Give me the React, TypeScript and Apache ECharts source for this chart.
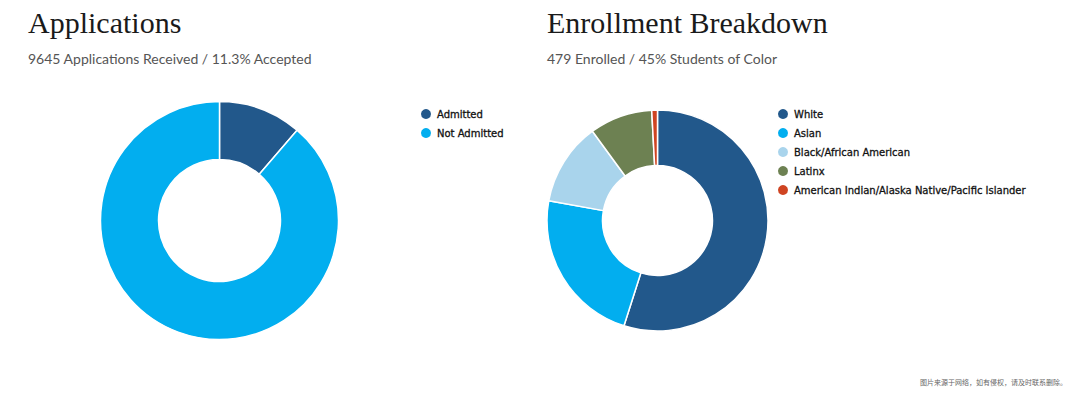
import React, { useEffect, useRef } from "react";
import * as echarts from "echarts";

const appCategories = ["Admitted", "Not Admitted"];
const appValues = [1090, 8555];
const appColors = ["#22588b", "#02aeef"];

const enrollCategories = [
  "White",
  "Asian",
  "Black/African American",
  "Latinx",
  "American Indian/Alaska Native/Pacific Islander",
];
const enrollValues = [263, 110, 58, 44, 4];
const enrollColors = ["#22588b", "#02aeef", "#a9d4ec", "#6d8152", "#cf4422"];

const titles = ["Applications", "Enrollment Breakdown"];
const subtitles = [
  "9645 Applications Received / 11.3% Accepted",
  "479 Enrolled / 45% Students of Color",
];

export default function App() {
  const ref = useRef<HTMLDivElement>(null);
  useEffect(() => {
    const chart = echarts.init(ref.current!, null, { renderer: "svg" });
    const titleStyle = {
      fontFamily: "Liberation Serif",
      fontSize: 30,
      fontWeight: "normal" as const,
      color: "#1a1a1a",
    };
    const subStyle = {
      fontFamily: "Lato",
      fontSize: 14,
      fontWeight: "normal" as const,
      color: "#555555",
    };
    const legendText = {
      fontFamily: "DejaVu Sans",
      fontSize: 10,
      fontWeight: "normal" as const,
      color: "#111111",
      textBorderColor: "#111111",
      textBorderWidth: 0.3,
    };
    chart.setOption({
      animation: false,
      backgroundColor: "#ffffff",
      title: [
        { text: titles[0], left: 23, top: 2, textStyle: titleStyle },
        { text: subtitles[0], left: 23, top: 46, textStyle: subStyle },
        { text: titles[1], left: 542, top: 2, textStyle: titleStyle },
        { text: subtitles[1], left: 542, top: 46, textStyle: subStyle },
      ],
      legend: [
        {
          data: appCategories,
          orient: "vertical",
          left: 414,
          top: 102,
          icon: "circle",
          itemWidth: 12,
          itemHeight: 12,
          itemGap: 5,
          textStyle: legendText,
          selectedMode: false,
        },
        {
          data: enrollCategories,
          orient: "vertical",
          left: 771,
          top: 102,
          icon: "circle",
          itemWidth: 12,
          itemHeight: 12,
          itemGap: 5,
          textStyle: legendText,
          selectedMode: false,
        },
      ],
      graphic: [
        {
          type: "text",
          right: 13,
          top: 378,
          style: {
            text: "图片来源于网络，如有侵权，请及时联系删除。",
            fontFamily: "Noto Sans CJK SC",
            fontSize: 7,
            fill: "#666666",
          },
        },
      ],
      series: [
        {
          type: "pie",
          center: [219.5, 220.5],
          radius: [61, 119],
          startAngle: 90,
          label: { show: false },
          labelLine: { show: false },
          emphasis: { disabled: true },
          itemStyle: { borderColor: "#ffffff", borderWidth: 1.5 },
          data: appCategories.map((n, i) => ({
            name: n,
            value: appValues[i],
            itemStyle: { color: appColors[i] },
          })),
        },
        {
          type: "pie",
          center: [657.5, 220.5],
          radius: [55, 110.5],
          startAngle: 90,
          label: { show: false },
          labelLine: { show: false },
          emphasis: { disabled: true },
          itemStyle: { borderColor: "#ffffff", borderWidth: 1.5 },
          data: enrollCategories.map((n, i) => ({
            name: n,
            value: enrollValues[i],
            itemStyle: { color: enrollColors[i] },
          })),
        },
      ],
    });
    return () => chart.dispose();
  }, []);
  return (
    <div
      ref={ref}
      style={{ position: "fixed", left: 0, top: 0, width: 1080, height: 395 }}
    />
  );
}
